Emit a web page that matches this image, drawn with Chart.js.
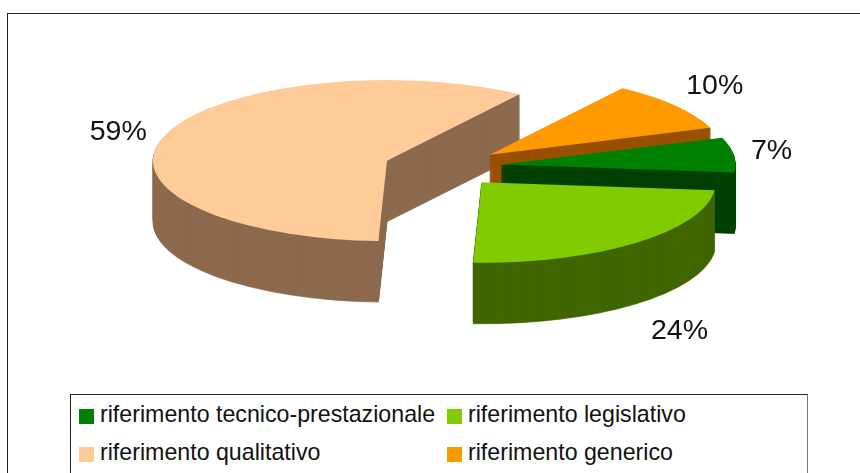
<!DOCTYPE html>
<html lang="it">
<head>
<meta charset="utf-8">
<title>Riferimenti</title>
<script src="https://cdn.jsdelivr.net/npm/chart.js@4/dist/chart.umd.min.js"></script>
<style>
    html, body { margin: 0; padding: 0; background: #fff; overflow: hidden; }
    #page { position: relative; width: 860px; height: 473px; overflow: hidden; }
    #frame { position: absolute; left: 7px; top: 13px; width: 900px; height: 500px; border: 1px solid #222; }
    #chart { position: absolute; left: 0; top: 0; }
    #legend {
        position: absolute; left: 70px; top: 394px; width: 736px; height: 100px;
        border: 1px solid #222; border-right-color: #777; background: #fff;
        font: 23.2px "Liberation Sans", Arial, sans-serif; color: #111;
    }
    .item { position: absolute; white-space: nowrap; line-height: 24px; }
    .swatch { position: absolute; left: 0; top: 7px; width: 15px; height: 15px; }
    .item span.name { position: absolute; left: 21px; top: 0; }
</style>
</head>
<body>
<div id="page">
    <div id="frame"></div>
    <div id="legend"></div>
    <canvas id="chart" width="860" height="473"></canvas>
</div>
<script>
const categories = ['riferimento tecnico-prestazionale', 'riferimento legislativo', 'riferimento qualitativo', 'riferimento generico'];
const percentages = [7, 24, 59, 10];
const topColors = ['#008000', '#80cc00', '#ffcc99', '#ff9900'];
const sideColors = ['#004000', '#406600', '#8c6a4e', '#995000'];

// 3D look
const squash = 0.344;
const depth = 61;
const explode = 59;
const drawOrder = [2, 3, 0, 1]; // back to front
const labelRadius = 340;
const labelShiftX = [-9, 13, -2, 2];
const labelShiftY = [-2, 15, 2, -10];

// legend positions follow the order of the categories
const legendBox = document.getElementById('legend');
categories.forEach((name, i) => {
    const item = document.createElement('div');
    item.className = 'item';
    item.style.left = (i % 2 === 0 ? 8 : 376) + 'px';
    item.style.top = (i < 2 ? 7 : 45) + 'px';
    item.innerHTML = '<div class="swatch" style="background:' + topColors[i] + '"></div><span class="name">' + name + '</span>';
    legendBox.appendChild(item);
});

function drawSlice(ctx, arc, color, lift, border) {
    const mid = (arc.startAngle + arc.endAngle) / 2;
    const saved = arc.options;
    arc.options = { ...saved, backgroundColor: color, borderColor: color, borderWidth: border };
    ctx.save();
    ctx.translate(arc.x, arc.y + lift);
    ctx.scale(1, squash);
    ctx.translate(-arc.x + Math.cos(mid) * explode, -arc.y + Math.sin(mid) * explode);
    arc.draw(ctx);
    ctx.restore();
    arc.options = saved;
}

const pie3d = {
    id: 'pie3d',
    beforeDatasetDraw(chart) {
        const ctx = chart.ctx;
        const arcs = chart.getDatasetMeta(0).data;
        drawOrder.forEach(i => {
            // a small border on the side layers hides the seams between them
            for (let lift = depth; lift > 0; lift--) {
                drawSlice(ctx, arcs[i], sideColors[i], lift, 1);
            }
            drawSlice(ctx, arcs[i], topColors[i], 0, 0);
        });
        return false;
    },
    afterDatasetsDraw(chart) {
        const ctx = chart.ctx;
        const arcs = chart.getDatasetMeta(0).data;
        ctx.save();
        ctx.fillStyle = '#111';
        ctx.font = '28.5px "Liberation Sans", Arial, sans-serif';
        ctx.textAlign = 'center';
        ctx.textBaseline = 'middle';
        arcs.forEach((arc, i) => {
            const mid = (arc.startAngle + arc.endAngle) / 2;
            const x = arc.x + Math.cos(mid) * labelRadius + labelShiftX[i];
            let y = arc.y + Math.sin(mid) * labelRadius * squash + labelShiftY[i];
            if (Math.sin(mid) > 0.5) y += depth;
            ctx.fillText(percentages[i] + '%', x, y);
        });
        ctx.restore();
    }
};

new Chart(document.getElementById('chart').getContext('2d'), {
    type: 'pie',
    data: {
        labels: categories,
        datasets: [{
            data: percentages,
            backgroundColor: topColors,
            borderWidth: 0
        }]
    },
    plugins: [pie3d],
    options: {
        responsive: false,
        animation: false,
        rotation: 70.5,
        radius: 234,
        layout: { padding: { left: 26, bottom: 139 } },
        plugins: {
            legend: { display: false },
            tooltip: { enabled: false }
        }
    }
});
</script>
</body>
</html>
